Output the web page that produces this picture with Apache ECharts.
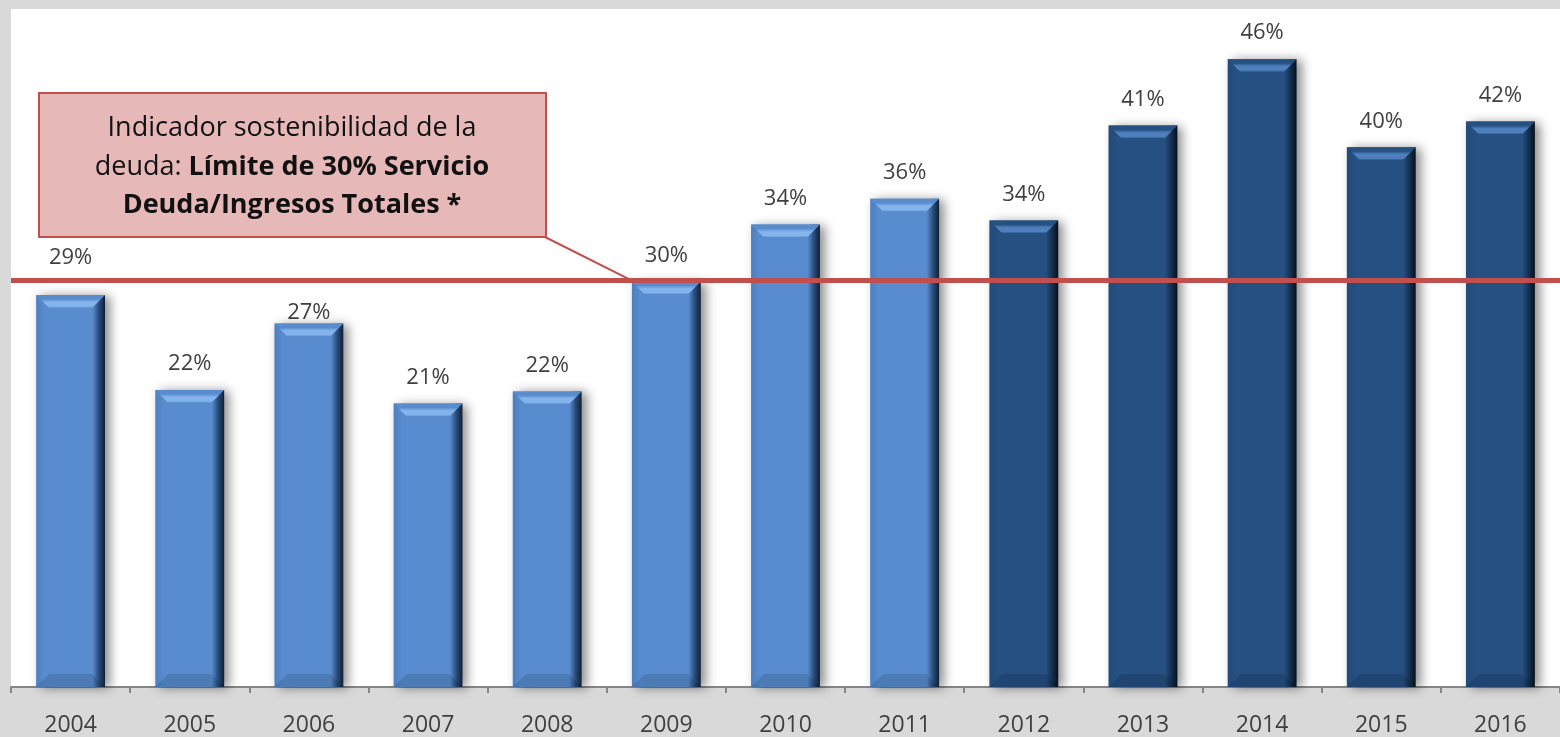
<!DOCTYPE html>
<html>
<head>
<meta charset="utf-8">
<script src="https://cdn.jsdelivr.net/npm/echarts@6/dist/echarts.min.js"></script>
<style>
  html, body { margin: 0; padding: 0; background: #d9d9d9; }
  #chart { width: 1560px; height: 737px; }
</style>
</head>
<body>
<div id="chart"></div>
<script>
// servicio de deuda / ingresos totales, en %
const years = ['2004', '2005', '2006', '2007', '2008', '2009', '2010', '2011', '2012', '2013', '2014', '2015', '2016']
const ratio = [28.9, 21.9, 26.8, 20.9, 21.8, 29.9, 34.1, 36.0, 34.4, 41.4, 46.3, 39.8, 41.7]
const limit = 30
const darkFrom = years.indexOf('2012')

const FONT = '"Open Sans", "Noto Sans", sans-serif'

const lightTone = { left: '#4c7fc0', main: '#588cce', edge: '#2a4d7c', deep: '#0f1f35', hi: '#84b4ec' }
const darkTone = { left: '#224a79', main: '#264f82', edge: '#15304f', deep: '#06101c', hi: '#4f80bd' }

// a couple of labels were nudged by hand in the original
const labelNudge = { '2004': 11, '2006': -15 }

const chart = echarts.init(document.getElementById('chart'))

function renderBar(params, api) {
  const i = api.value(0)
  const v = api.value(1)
  const top = api.coord([i, v])
  const base = api.coord([i, 0])
  const w = api.size([1, 0])[0] * 0.578
  const x0 = top[0] - w / 2
  const x1 = top[0] + w / 2
  const y0 = top[1]
  const y1 = base[1]
  const b = 13
  const c = i >= darkFrom ? darkTone : lightTone

  return {
    type: 'group',
    children: [
      {
        type: 'rect',
        shape: { x: x0, y: y0, width: w, height: y1 - y0 },
        style: {
          fill: new echarts.graphic.LinearGradient(0, 0, 1, 0, [
            { offset: 0, color: c.left },
            { offset: 0.12, color: c.main },
            { offset: 0.82, color: c.main },
            { offset: 0.91, color: c.edge },
            { offset: 1, color: c.deep }
          ]),
          shadowBlur: 10,
          shadowOffsetX: 5,
          shadowOffsetY: 1,
          shadowColor: 'rgba(0,0,0,0.45)'
        },
        textContent: {
          style: {
            text: Math.round(v) + '%',
            fill: '#404040',
            fontSize: 22,
            fontFamily: FONT
          }
        },
        textConfig: { position: 'top', distance: 15 + (labelNudge[years[i]] || 0) }
      },
      {
        type: 'polygon',
        shape: { points: [[x0, y0], [x1, y0], [x1 - b, y0 + b], [x0 + b, y0 + b]] },
        style: {
          fill: new echarts.graphic.LinearGradient(0, 0, 0, 1, [
            { offset: 0, color: c.main },
            { offset: 0.3, color: c.main },
            { offset: 0.55, color: c.hi },
            { offset: 0.85, color: c.hi },
            { offset: 1, color: c.main }
          ])
        }
      },
      {
        type: 'polygon',
        shape: { points: [[x0, y1], [x1, y1], [x1 - b, y1 - b], [x0 + b, y1 - b]] },
        style: { fill: 'rgba(0,0,0,0.12)' }
      }
    ]
  }
}

chart.setOption({
  backgroundColor: '#d9d9d9',
  animation: false,
  grid: {
    left: 11,
    top: 9,
    width: 1560,
    bottom: 47,
    show: true,
    backgroundColor: '#ffffff',
    borderWidth: 0
  },
  xAxis: {
    type: 'category',
    data: years,
    axisLine: { lineStyle: { color: '#868686', width: 2 } },
    axisTick: { show: true, interval: 0, length: 6, lineStyle: { color: '#868686', width: 2 } },
    axisLabel: { color: '#404040', fontSize: 23, fontFamily: FONT, margin: 27, interval: 0 }
  },
  yAxis: {
    type: 'value',
    min: 0,
    max: 50,
    show: false,
    splitLine: { show: false }
  },
  series: [
    {
      type: 'custom',
      renderItem: renderBar,
      encode: { x: 0, y: 1 },
      data: ratio.map((v, i) => [i, v]),
      z: 2
    },
    {
      type: 'line',
      data: [],
      z: 5,
      markLine: {
        silent: true,
        symbol: ['none', 'none'],
        label: { show: false },
        lineStyle: { color: '#c0504d', width: 5, type: 'solid' },
        data: [{ yAxis: limit }]
      }
    }
  ]
})

// recuadro del indicador, con su línea hacia el límite
const limitY = chart.convertToPixel({ yAxisIndex: 0 }, limit)
chart.setOption({
  graphic: [
    {
      type: 'line',
      z: 10,
      shape: { x1: 545, y1: 237, x2: 631, y2: limitY },
      style: { stroke: '#c0504d', lineWidth: 2 }
    },
    {
      type: 'rect',
      z: 11,
      shape: { x: 39, y: 93, width: 507, height: 144 },
      style: { fill: '#e6b9b8', stroke: '#c0504d', lineWidth: 2 }
    },
    {
      type: 'text',
      z: 12,
      x: 292,
      y: 167,
      style: {
        text: 'Indicador sostenibilidad de la\ndeuda: {b|Límite de 30% Servicio}\n{b|Deuda/Ingresos Totales *}',
        align: 'center',
        verticalAlign: 'middle',
        fill: '#111111',
        fontSize: 27,
        fontFamily: FONT,
        lineHeight: 38.5,
        rich: {
          b: { fontWeight: 'bold', fontSize: 27, fontFamily: FONT, lineHeight: 38.5, fill: '#111111' }
        }
      }
    }
  ]
})
</script>
</body>
</html>
